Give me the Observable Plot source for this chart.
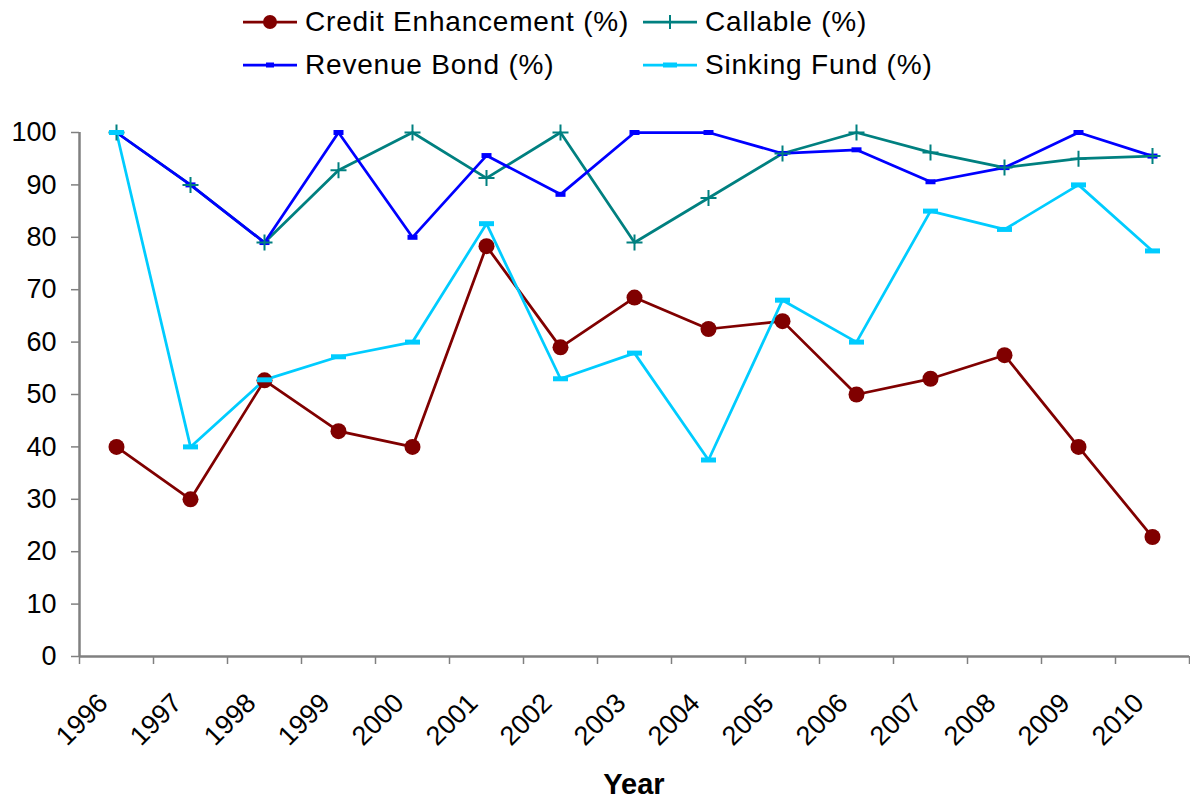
<!DOCTYPE html>
<html>
<head>
<meta charset="utf-8">
<script src="https://cdn.jsdelivr.net/npm/d3@7"></script>
<script src="https://cdn.jsdelivr.net/npm/@observablehq/plot@0.6"></script>
<style>
  html, body { margin: 0; padding: 0; background: #fff; }
  body { font-family: "Liberation Sans", Arial, sans-serif; color: #000; width: 1190px; }
  #legend { position: relative; height: 88px; width: 1190px; }
  .item { position: absolute; display: flex; align-items: center; height: 40px; font-size: 28px; letter-spacing: 0.8px; white-space: nowrap; }
  .item svg { margin-right: 8px; }
  #xlabel { margin-top: 1px; padding-left: 79px; width: 1110px; text-align: center; font-weight: bold; font-size: 29px; line-height: 30px; }
</style>
</head>
<body>
<div id="legend"></div>
<div id="chart"></div>
<div id="xlabel">Year</div>
<script>
// ---- data ----
const years = [1996, 1997, 1998, 1999, 2000, 2001, 2002, 2003, 2004, 2005, 2006, 2007, 2008, 2009, 2010];
const creditEnhancement = [40, 30, 52.7, 43, 40, 78.3, 59, 68.5, 62.5, 64, 50, 53, 57.5, 40, 22.8];
const callable = [100, 90, 79, 92.8, 100, 91.3, 100, 79, 87.5, 96, 100, 96.2, 93.3, 95, 95.5];
const revenueBond = [100, 90, 79, 100, 80, 95.6, 88.2, 100, 100, 96, 96.7, 90.6, 93.3, 100, 95.5];
const sinkingFund = [100, 40, 52.8, 57.2, 60, 82.6, 53, 57.9, 37.5, 68, 60, 85, 81.5, 90, 77.4];
const seriesNames = ["Credit Enhancement (%)", "Callable (%)", "Revenue Bond (%)", "Sinking Fund (%)"];
const seriesColors = ["#800000", "#008080", "#0000FF", "#00CCFF"];
const yTicks = [0, 10, 20, 30, 40, 50, 60, 70, 80, 90, 100];

// ---- derived tables ----
const seriesValues = [creditEnhancement, callable, revenueBond, sinkingFund];
const rows = seriesNames.flatMap((name, i) => years.map((yr, j) => ({series: name, year: yr, value: seriesValues[i][j]})));
const bySeries = name => rows.filter(r => r.series === name);
const boundaries = years.map(y => y - 0.5).concat([years[years.length - 1] + 0.5]);

const dashSymbol = (w, h) => ({ draw(context) { context.rect(-w / 2, -h / 2, w, h); } });
const plusSymbol = (a) => ({ draw(context) { context.moveTo(0, -a); context.lineTo(0, a); context.moveTo(-a, 0); context.lineTo(a, 0); } });

const lineMark = (i) => Plot.line(bySeries(seriesNames[i]), {x: "year", y: "value", stroke: seriesColors[i], strokeWidth: 2.75});

const chart = Plot.plot({
  width: 1190,
  height: 680,
  marginLeft: 79,
  marginRight: 1,
  marginTop: 44,
  marginBottom: 112,
  style: {fontFamily: '"Liberation Sans", Arial, sans-serif', fontSize: "27px", color: "#000", background: "#fff"},
  x: {type: "linear", domain: [boundaries[0], boundaries[boundaries.length - 1]], axis: null},
  y: {domain: [0, 100], axis: null},
  marks: [
    Plot.axisY(yTicks, {tickSize: 8, tickPadding: 15, fontSize: 27, stroke: "#808080", strokeWidth: 1.5, fill: "#000", tickFormat: d => String(d), label: null}),
    Plot.axisX(boundaries, {tickSize: 8, stroke: "#808080", strokeWidth: 1.5, tickFormat: () => "", label: null}),
    Plot.ruleY([0], {stroke: "#808080", strokeWidth: 2.5}),
    Plot.ruleX([boundaries[0]], {stroke: "#808080", strokeWidth: 2.5}),
    lineMark(0), lineMark(1), lineMark(2), lineMark(3),
    Plot.dot(bySeries(seriesNames[0]), {x: "year", y: "value", r: 8, fill: seriesColors[0], stroke: null}),
    Plot.dot(bySeries(seriesNames[2]), {x: "year", y: "value", symbol: dashSymbol(10, 5), r: 5, fill: seriesColors[2], stroke: null}),
    Plot.dot(bySeries(seriesNames[1]), {x: "year", y: "value", symbol: plusSymbol(8), r: 5, stroke: seriesColors[1], strokeWidth: 2, fill: "none"}),
    Plot.dot(bySeries(seriesNames[3]), {x: "year", y: "value", symbol: dashSymbol(15, 5), r: 5, fill: seriesColors[3], stroke: null}),
    Plot.text(years, {x: d => d, frameAnchor: "bottom", text: d => String(d), rotate: -45, textAnchor: "end", lineAnchor: "bottom", dx: -7, dy: 48, fontSize: 27, fill: "#000"})
  ]
});
document.getElementById("chart").appendChild(chart);

// ---- legend ----
const legendPos = [[243, 2], [643, 2], [243, 45], [643, 45]];
const markerSvg = [
  c => `<circle cx="27" cy="10" r="7" fill="${c}"/>`,
  c => `<path d="M27,3V17M20,10H34" stroke="${c}" stroke-width="2"/>`,
  c => `<rect x="23" y="7.5" width="8" height="5" fill="${c}"/>`,
  c => `<rect x="20" y="7.5" width="14" height="5" fill="${c}"/>`
];
const legend = document.getElementById("legend");
seriesNames.forEach((name, i) => {
  const el = document.createElement("div");
  el.className = "item";
  el.style.left = legendPos[i][0] + "px";
  el.style.top = legendPos[i][1] + "px";
  el.innerHTML = `<svg width="54" height="20"><line x1="0" y1="10" x2="54" y2="10" stroke="${seriesColors[i]}" stroke-width="2.75"/>${markerSvg[i](seriesColors[i])}</svg><span>${name}</span>`;
  legend.appendChild(el);
});
</script>
</body>
</html>
